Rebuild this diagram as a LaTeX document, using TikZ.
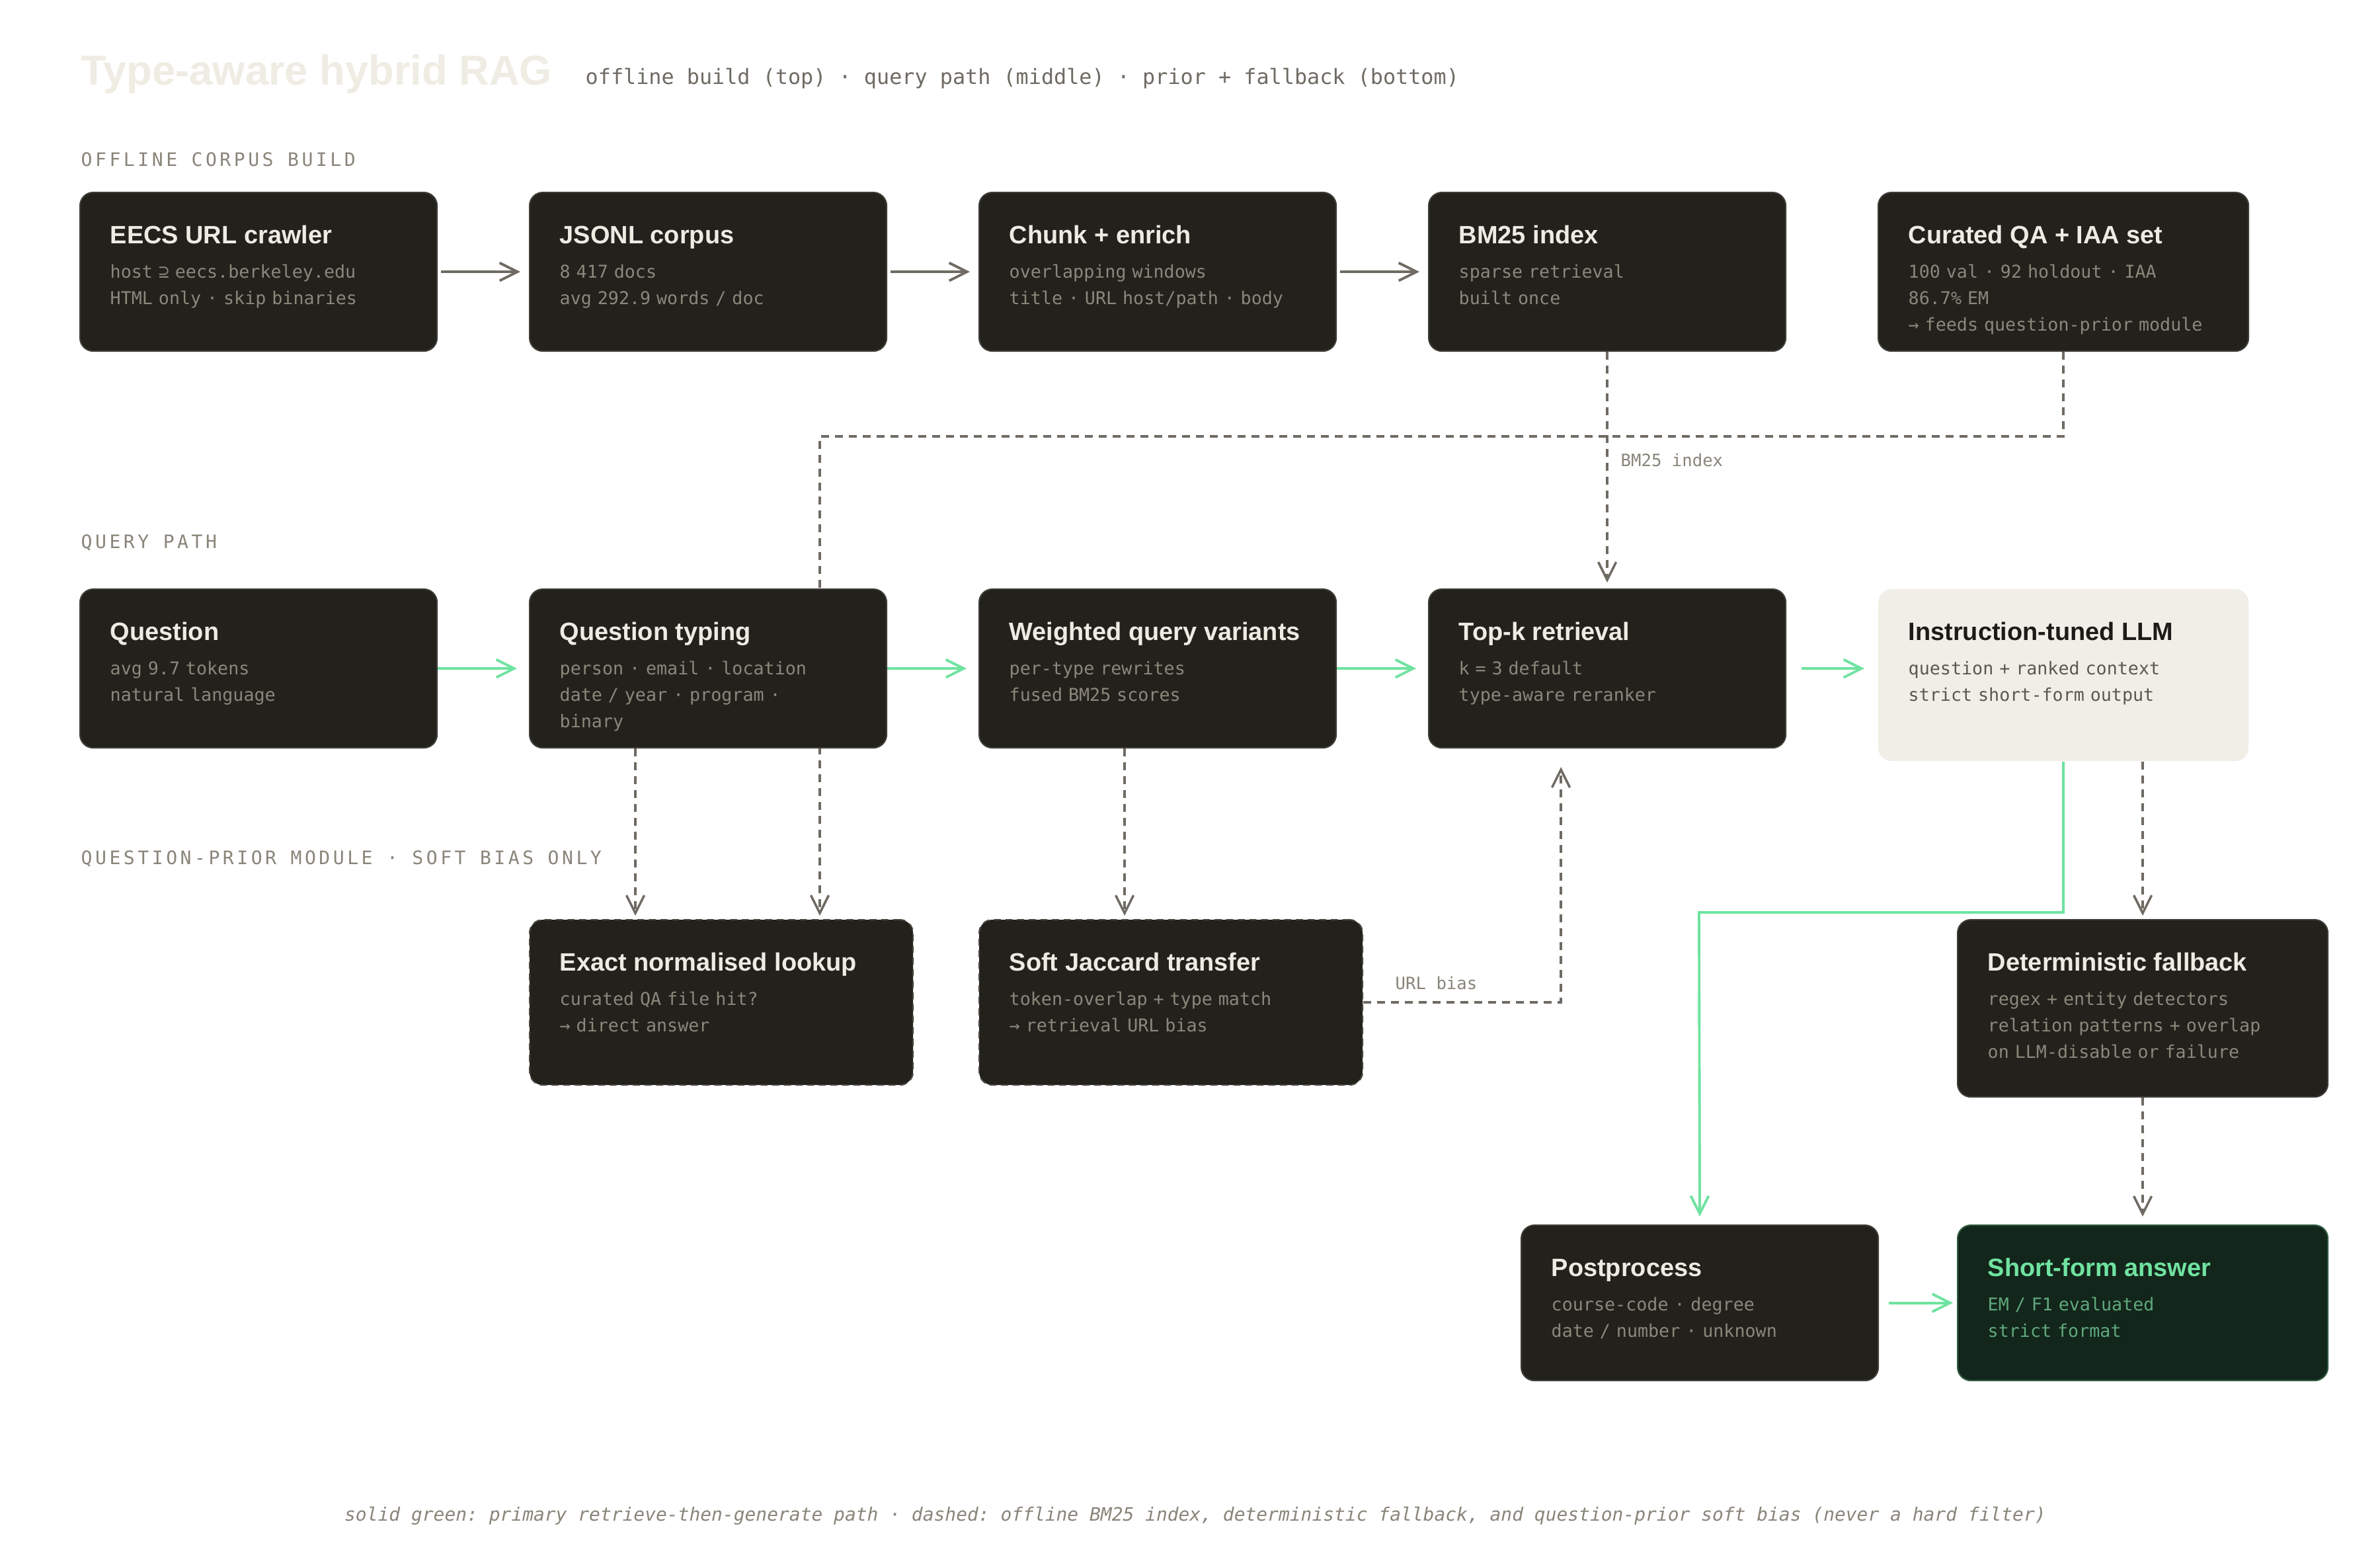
\documentclass[tikz,border=0pt]{standalone}
\usepackage{fontspec}
\setmainfont{Liberation Sans}
\setmonofont[WordSpace={1,0,0}]{DejaVu Sans Mono}
\newfontfamily\capsfont[LetterSpace=16]{DejaVu Sans Mono}
\usetikzlibrary{arrows.meta,backgrounds,positioning}

\definecolor{ink}{HTML}{22211C}
\definecolor{edge}{HTML}{3E3C36}
\definecolor{dashedge}{HTML}{4A473F}
\definecolor{chalk}{HTML}{EEEBE3}
\definecolor{dim}{HTML}{8C877B}
\definecolor{wire}{HTML}{6F6B63}
\definecolor{mint}{HTML}{6FE3A0}
\definecolor{paper}{HTML}{F0EEE6}
\definecolor{coal}{HTML}{1C1B18}
\definecolor{slate}{HTML}{5B5850}
\definecolor{moss}{HTML}{13261B}
\definecolor{mossedge}{HTML}{2F5C40}
\definecolor{sage}{HTML}{5FA87C}
\definecolor{label}{HTML}{8A857A}
\definecolor{faint}{HTML}{EFECE3}

\tikzset{
  box/.style={rounded corners=0.2cm, anchor=north west, minimum width=5.4cm, minimum height=2.4cm, inner sep=0, line width=0.6pt},
  darkbox/.style={box, fill=ink, draw=edge},
  lightbox/.style={box, fill=paper},
  greenbox/.style={box, fill=moss, draw=mossedge},
  ttl/.style={anchor=base west, inner sep=0, font=\fontsize{10.8}{13}\selectfont\bfseries},
  sub/.style={anchor=base west, inner sep=0, text width=5.2cm, align=left, font=\ttfamily\fontsize{7.6}{11.4}\selectfont},
  darkttl/.style={ttl, text=chalk}, darksub/.style={sub, text=dim},
  lightttl/.style={ttl, text=coal}, lightsub/.style={sub, text=slate},
  greenttl/.style={ttl, text=mint}, greensub/.style={sub, text=sage},
  flow/.style={line width=1.1pt, draw=wire, -{Straight Barb[length=0.27cm,width=0.27cm]}},
  hot/.style={flow, draw=mint},
  aux/.style={flow, line width=1pt, dash pattern=on 0.12cm off 0.09cm},
  sect/.style={anchor=base west, inner sep=0, text=label, font=\capsfont\fontsize{8}{10}\selectfont},
  note/.style={anchor=base west, inner sep=0, text=label, font=\ttfamily\fontsize{7.3}{9}\selectfont}
}

% box + title + grey lines, placed from the box corner
\newcommand\mkstage[5][]{%
  \node[#2box,#1] (#3) {};
  \node[#2ttl] (#3t) at ([shift={(0.46,-0.78)}]#3.north west) {#4};
  \node[#2sub] (#3s) at ([shift={(0.46,-1.30)}]#3.north west) {#5};}

\begin{document}
\begin{tikzpicture}
\useasboundingbox (0,0) rectangle (36,-23.6);

\node[anchor=base west, inner sep=0, text=faint, font=\fontsize{18}{20}\selectfont\bfseries] (head) at (1.22,-1.28) {Type-aware hybrid RAG};
\node[anchor=base west, inner sep=0, text=wire, font=\ttfamily\fontsize{9.05}{11}\selectfont] (subhead) at (8.85,-1.27) {offline build (top) · query path (middle) · prior + fallback (bottom)};

\node[sect] (sec1) at (1.22,-2.51) {OFFLINE CORPUS BUILD};
\node[sect] (sec2) at (1.22,-8.29) {QUERY PATH};
\node[sect] (sec3) at (1.22,-13.07) {QUESTION-PRIOR MODULE · SOFT BIAS ONLY};

% offline build
\mkstage[at={(1.2,-2.9)}]{dark}{crawl}{EECS URL crawler}{host ⊇ eecs.berkeley.edu\\HTML only · skip binaries}
\mkstage[at={(8,-2.9)}]{dark}{jsonl}{JSONL corpus}{8 417 docs\\avg 292.9 words / doc}
\mkstage[at={(14.8,-2.9)}]{dark}{chunk}{Chunk + enrich}{overlapping windows\\title · URL host/path · body}
\mkstage[at={(21.6,-2.9)}]{dark}{bm}{BM25 index}{sparse retrieval\\built once}
\mkstage[at={(28.4,-2.9)}, minimum width=5.6cm]{dark}{cur}{Curated QA + IAA set}{100 val · 92 holdout · IAA\\86.7\% EM\\→ feeds question-prior module}

% query path
\mkstage[at={(1.2,-8.9)}]{dark}{q}{Question}{avg 9.7 tokens\\natural language}
\mkstage[at={(8,-8.9)}]{dark}{qtype}{Question typing}{person · email · location\\date / year · program ·\\binary}
\mkstage[at={(14.8,-8.9)}]{dark}{wqv}{Weighted query variants}{per-type rewrites\\fused BM25 scores}
\mkstage[at={(21.6,-8.9)}]{dark}{topk}{Top-k retrieval}{k = 3 default\\type-aware reranker}
\mkstage[at={(28.4,-8.9)}, minimum width=5.6cm, minimum height=2.6cm]{light}{llm}{Instruction-tuned LLM}{question + ranked context\\strict short-form output}

% prior module + fallback
\mkstage[at={(8,-13.9)}, minimum width=5.8cm, minimum height=2.5cm, draw=dashedge, dash pattern=on 3pt off 2pt]{dark}{exact}{Exact normalised lookup}{curated QA file hit?\\→ direct answer}
\mkstage[at={(14.8,-13.9)}, minimum width=5.8cm, minimum height=2.5cm, draw=dashedge, dash pattern=on 3pt off 2pt]{dark}{soft}{Soft Jaccard transfer}{token-overlap + type match\\→ retrieval URL bias}
\mkstage[at={(29.6,-13.9)}, minimum width=5.6cm, minimum height=2.68cm]{dark}{fb}{Deterministic fallback}{regex + entity detectors\\relation patterns + overlap\\on LLM-disable or failure}

\mkstage[at={(23,-18.52)}, minimum height=2.35cm]{dark}{post}{Postprocess}{course-code · degree\\date / number · unknown}
\mkstage[at={(29.6,-18.52)}, minimum width=5.6cm, minimum height=2.35cm]{green}{ans}{Short-form answer}{EM / F1 evaluated\\strict format}

\coordinate (tap) at (12.4,-6.6);
\coordinate (gbend) at (25.7,-13.8);

\begin{scope}[on background layer]
  \fill[white] (0,0) rectangle (36,-23.6);
  \foreach \src/\dst in {crawl/jsonl,jsonl/chunk,chunk/bm}
    \draw[flow, shorten <=0.05cm, shorten >=0.13cm] (\src) -- (\dst);
  \foreach \src/\dst in {q/qtype,qtype/wqv,wqv/topk}
    \draw[hot, shorten >=0.18cm] (\src) -- (\dst);
  \draw[hot, shorten <=0.23cm, shorten >=0.2cm] (topk.east) -- (topk.east -| llm.west);
  \draw[hot, shorten >=0.12cm] (llm.south) |- (gbend) -- (post.north);
  \draw[hot, shorten <=0.15cm, shorten >=0.06cm] (post) -- (ans);

  \draw[aux, shorten >=0.09cm] (bm) -- (topk);
  \draw[aux, shorten >=0.05cm] (cur.south) |- (tap) -- (tap |- exact.north);
  \draw[aux, shorten >=0.05cm] ([xshift=-1.1cm]qtype.south) -- ([xshift=-1.1cm]qtype.south |- exact.north);
  \draw[aux, shorten >=0.05cm] ([xshift=-0.5cm]wqv.south) -- ([xshift=-0.5cm]wqv.south |- soft.north);
  \draw[aux, shorten >=0.28cm] (soft.east) -| ([xshift=-0.7cm]topk.south);
  \draw[aux, shorten >=0.05cm] (fb.north |- llm.south) -- (fb.north);
  \draw[aux, shorten >=0.12cm] (fb) -- (ans);
\end{scope}

\node[note] (bmlbl) at (24.51,-7.05) {BM25 index};
\node[note] (urllbl) at (21.1,-14.96) {URL bias};

\node[anchor=base, inner sep=0, text=label, font=\ttfamily\itshape\fontsize{7.95}{10}\selectfont] (foot) at (18.08,-23.0) {solid green: primary retrieve-then-generate path · dashed: offline BM25 index, deterministic fallback, and question-prior soft bias (never a hard filter)};
\end{tikzpicture}
\end{document}
